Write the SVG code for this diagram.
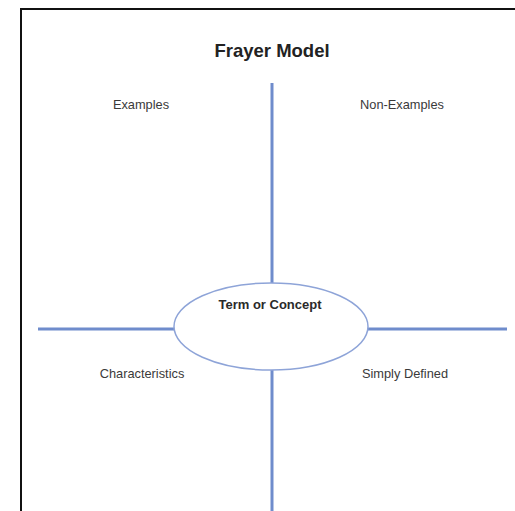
<svg xmlns="http://www.w3.org/2000/svg" width="515" height="511" viewBox="0 0 515 511">
<style>
.lbl{font-family:"Liberation Sans",Arial,sans-serif;font-size:12.8px;fill:#3a3a3a;text-anchor:middle}
.ttl{font-family:"Liberation Sans",Arial,sans-serif;font-size:18.5px;font-weight:bold;fill:#222;text-anchor:middle}
.bl{font-family:"Liberation Sans",Arial,sans-serif;font-size:13px;font-weight:bold;fill:#2a2a2a;text-anchor:middle}
.ln{stroke:#6f8ccc;stroke-width:3;fill:none}
</style>
<rect x="0" y="0" width="515" height="511" fill="#fff"/>
<path d="M21 511 V9 H515" fill="none" stroke="#111" stroke-width="2"/>
<text class="ttl" x="272" y="57">Frayer Model</text>
<g id="connectors">
<line class="ln" x1="272" y1="83" x2="272" y2="283"/>
<line class="ln" x1="272" y1="370" x2="272" y2="511"/>
<line class="ln" x1="38" y1="329" x2="174" y2="329"/>
<line class="ln" x1="368" y1="329" x2="507" y2="329"/>
</g>
<g id="examples"><text class="lbl" x="141" y="109">Examples</text></g>
<g id="non-examples"><text class="lbl" x="402" y="109">Non-Examples</text></g>
<g id="term"><ellipse cx="271" cy="326.5" rx="97" ry="43.5" fill="#fff" stroke="#8ea4d8" stroke-width="1.5"/><text class="bl" x="270" y="309">Term or Concept</text></g>
<g id="characteristics"><text class="lbl" x="142" y="378">Characteristics</text></g>
<g id="simply-defined"><text class="lbl" x="405" y="378">Simply Defined</text></g>
</svg>
